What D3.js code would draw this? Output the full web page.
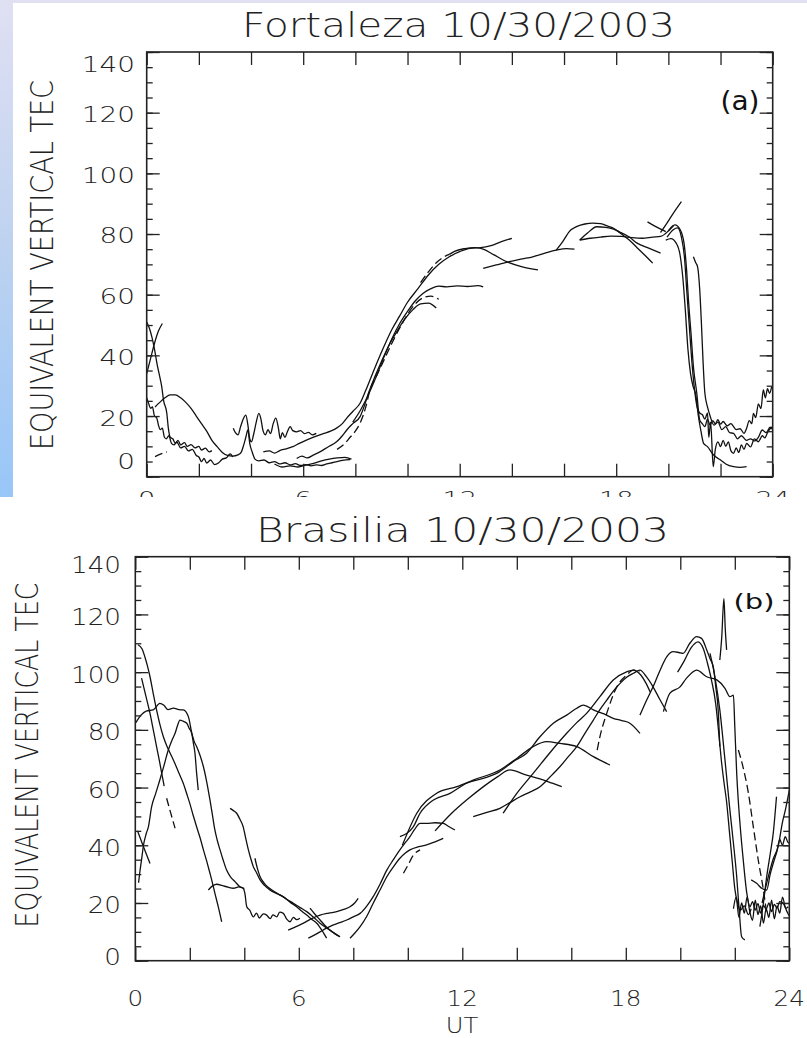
<!DOCTYPE html>
<html><head><meta charset="utf-8">
<script src="https://cdn.jsdelivr.net/npm/d3@7"></script>
<style>html,body{margin:0;padding:0;background:#fff}svg{display:block}</style>
</head><body>
<svg id="c" width="807" height="1038"></svg>
<script>
// ---------------- tick values / labels ----------------
const xTicks = [0,2,4,6,8,10,12,14,16,18,20,22,24];
const xLabels = [0,6,12,18,24];
const yMajor = [0,20,40,60,80,100,120,140];
const yMinor = [0,5,10,15,20,25,30,35,40,45,50,55,60,65,70,75,80,85,90,95,100,105,110,115,120,125,130,135,140];
const titles = ["Fortaleza 10/30/2003","Brasilia 10/30/2003"];
const yTitle = "EQUIVALENT VERTICAL TEC";
const xTitle = "UT";
const tags = ["(a)","(b)"];

// ---------------- Fortaleza passes [UT, TEC] ----------------
const fA1 = [[0,51],[0.1,49],[0.2,46],[0.3,42],[0.4,37],[0.5,33],[0.57,30],[0.65,25],[0.77,21],[0.83,16],[0.9,13],[1.0,12.5],[1.1,11],[1.2,12],[1.3,10.5],[1.45,11.2],[1.55,10],[1.7,10.6],[1.85,9.5],[2.0,10],[2.1,8.8],[2.25,9.4],[2.4,8.2],[2.5,8.6]];
const fA2 = [[0,34],[0.15,39],[0.3,44],[0.45,48],[0.6,50.5]];
const fA3 = [[0,26],[0.08,24],[0.15,22.5],[0.22,23],[0.3,20],[0.38,19.5],[0.45,17],[0.52,15.5],[0.6,16],[0.68,13],[0.75,12.5],[0.85,13.5],[0.95,11],[1.05,10.5],[1.15,11.5],[1.3,9.5],[1.45,10],[1.6,8.5],[1.75,9],[1.9,7],[2.0,6.5],[2.1,5],[2.2,6],[2.3,4.5],[2.45,5.5],[2.6,4],[2.75,4.5],[2.9,5.8],[3.05,6.2],[3.2,7.5],[3.3,6.5]];
const fA4 = [[0.32,6.6],[0.55,7.5],[0.77,8.2]];
const fB = [[0.32,23],[0.5,24.5],[0.7,26],[0.9,27],[1.1,27],[1.3,26],[1.5,24.5],[1.7,22.5],[1.9,20],[2.1,17.5],[2.3,15],[2.5,12],[2.7,9.9],[2.9,8],[3.1,7],[3.3,6.8],[3.5,7.2],[3.62,8],[3.72,10.5],[3.8,13],[3.88,15.4],[3.95,11],[4.05,8],[4.15,5.8],[4.3,5.2],[4.5,5.5],[4.7,4.6],[4.9,5],[5.1,4.2],[5.3,4.6],[5.5,3.9],[5.7,4.3],[5.9,3.7],[6.1,4],[6.3,3.6],[6.5,3.9],[6.7,3.7],[6.9,4.2],[7.1,4.6],[7.3,5],[7.5,5.4],[7.8,5.6]];
const fL = [[4.9,4.2],[5.2,3.2],[5.5,3.6],[5.8,3.2],[6.1,3.8],[6.4,4.4],[6.7,5.2],[7.0,5.8],[7.3,6.2],[7.6,6.4],[7.85,5.8]];
const fS = [[3.32,16],[3.4,14.5],[3.5,13.8],[3.6,16.5],[3.7,19],[3.8,20.3],[3.88,17],[3.95,12.5],[4.02,11.5],[4.1,14],[4.2,18],[4.3,20.9],[4.38,19],[4.45,15.5],[4.55,13.8],[4.65,15.5],[4.75,14.2],[4.85,17.5],[4.95,19.3],[5.05,16],[5.12,12.5],[5.2,14.5],[5.3,13],[5.4,15],[5.5,16.5],[5.6,15.2],[5.75,14.8],[5.9,15.2],[6.05,14.2],[6.2,14.6],[6.35,13.8],[6.5,14.3]];
const fR1 = [[4.47,8.2],[4.7,8.5],[4.9,7.8],[5.1,8.6],[5.35,9.2],[5.6,9.9],[5.85,11],[6.1,12],[6.45,13.2],[6.8,14.3],[7.05,15],[7.28,16],[7.5,17.5],[7.67,19.3],[7.9,21.5],[8.18,24.2],[8.4,28.5],[8.56,31.9],[8.8,37],[9.1,43],[9.4,48.5],[9.7,53],[10.0,57.5],[10.4,62],[10.8,66.5],[11.2,70],[11.6,72.5],[12.0,74.2],[12.4,75.3],[12.8,75.5],[13.2,76.2],[13.6,77.5],[14.0,78.6]];
const fR2 = [[5.75,6],[5.95,6.8],[6.15,6.2],[6.4,7.2],[6.64,8.2],[6.95,9.8],[7.28,11.5],[7.5,13.5],[7.67,15.4],[7.9,17.5],[8.18,19.8],[8.35,23.5],[8.5,27.5],[8.75,33],[9.0,38],[9.3,43.5],[9.6,48],[9.9,52],[10.2,55],[10.5,57],[10.8,57.2],[11.1,55.6]];
const fR3 = [[7.3,9],[7.6,11],[7.8,13],[8.0,15],[8.2,18],[8.4,23],[8.56,28.6],[8.8,33],[9.1,38.5],[9.4,44],[9.7,49],[10.0,53.5],[10.3,57],[10.6,59],[10.9,59.5],[11.2,58.5]];
const fR4 = [[7.9,18],[8.2,22],[8.5,27],[8.8,33],[9.1,39.5],[9.4,45.5],[9.7,50.5],[10.0,54.5],[10.3,58],[10.6,60.5],[10.9,62],[11.2,62.8],[11.5,62.6],[11.9,62.9],[12.3,62.7],[12.7,63],[12.9,62.6]];
const fR5a = [[10.5,64],[10.8,67.5],[11.1,70.5],[11.4,72.5],[11.6,73.3]];
const fR5 = [[11.6,73.3],[11.8,74.3],[12.2,75.2],[12.6,75.5],[12.9,75],[13.3,73.2],[13.8,70.9],[14.4,69.2],[15.0,68.2]];
const fR6 = [[12.9,68.7],[13.4,69.8],[13.9,70.9],[14.4,71.8],[14.8,72.5],[15.3,73.8],[15.7,74.7],[16.1,75.2],[16.4,75]];
const fH1 = [[15.7,74.7],[15.95,77.5],[16.2,80.8],[16.5,82.5],[16.8,83.3],[17.1,83.6],[17.4,83.4],[17.7,82.5],[17.9,81.9],[18.2,80],[18.5,78],[18.8,75.5],[19.1,73],[19.4,70.4]];
const fH2 = [[16.6,78],[16.9,80.3],[17.25,82.4],[17.6,82.2],[17.9,81.6],[18.1,80.8],[18.5,79],[18.8,77],[19.2,75.5],[19.7,73.7]];
const fH3 = [[16.6,78],[17.0,78.6],[17.4,79],[17.8,79.3],[18.2,79.2],[18.6,78.8],[19.0,78.6],[19.4,79],[19.7,79.2],[20.0,81],[20.2,82.8]];
const fH4 = [[19.2,84],[19.5,82.5],[19.9,80.8]];
const fH5 = [[19.7,80.5],[19.94,83.5],[20.2,87],[20.5,90.7]];
const fD1 = [[20.0,81],[20.25,83],[20.45,81.5],[20.6,77],[20.7,68],[20.77,58.3],[20.87,47],[20.96,36.3],[21.09,27.5],[21.2,18.7],[21.3,17.5],[21.4,16.5],[21.5,19],[21.6,17],[21.7,18.5],[21.8,17.5],[21.9,18.8],[22.0,17.3],[22.1,18.2],[22.25,16.8],[22.4,17.5],[22.5,16.5],[22.6,15.5],[22.75,15.8],[22.9,14.3],[23.0,16],[23.1,18.5],[23.2,17.5],[23.26,20.9],[23.35,19.5],[23.45,24],[23.55,22.5],[23.64,28.6],[23.72,26],[23.8,29],[23.88,27.5],[23.96,29.7]];
const fD2 = [[19.95,79],[20.2,81.5],[20.35,82],[20.5,79],[20.62,72],[20.7,62],[20.8,50],[20.9,38],[21.0,29],[21.1,23],[21.2,21],[21.3,20.5],[21.4,19],[21.5,21],[21.55,13],[21.62,18],[21.72,3.3],[21.8,9],[21.9,11.5],[22.0,9.9],[22.1,12],[22.2,10],[22.3,11.5],[22.4,8.5],[22.5,7.7],[22.6,9.5],[22.7,8],[22.8,10.5],[22.9,9],[23.0,11],[23.15,9.8],[23.3,12.5],[23.45,11.5],[23.5,12.1],[23.6,13.5],[23.7,12.8],[23.8,14.5],[23.9,15.8],[24.0,16.5]];
const fD3 = [[19.9,78],[20.1,78.5],[20.3,77],[20.45,73],[20.55,66],[20.65,55],[20.75,42],[20.85,34],[20.95,29.7],[21.05,27],[21.15,20],[21.25,15],[21.35,11],[21.5,9.9],[21.7,7.5],[21.85,6.3],[22.0,5.5],[22.2,4.2],[22.5,3.3],[22.75,3.1],[23.0,3.3]];
const fD4 = [[20.96,72.5],[21.05,70.5],[21.12,69.2],[21.2,62],[21.27,50],[21.33,38],[21.4,27.5],[21.5,23],[21.6,20],[21.75,17],[21.9,18],[22.05,15.5],[22.2,16.5],[22.35,14.5],[22.5,14.3],[22.65,12.5],[22.8,13.5],[23.0,12],[23.15,12.5],[23.3,11.8],[23.45,13],[23.6,15.4],[23.75,14.5],[23.9,16.3],[24.0,15.5]];

// ---------------- Brasilia passes [UT, TEC] ----------------
const bP1 = [[0.1,109.5],[0.25,108],[0.36,105],[0.45,102],[0.54,98.4],[0.66,92.5],[0.78,86.9],[0.9,82],[1.03,77.6],[1.2,73.5],[1.4,69.5],[1.58,65.5],[1.76,61.5],[1.9,57.5],[2.0,54.5],[2.12,50.5],[2.25,46.4],[2.38,42.5],[2.5,38.4],[2.62,34.5],[2.74,30.3],[2.83,27],[2.92,23.4],[3.05,18.5],[3.17,13.5]];
const bP2 = [[0.23,97.9],[0.38,92],[0.54,85.7],[0.66,80],[0.78,74.2],[0.88,69.5],[0.97,64.9],[1.06,60.5]];
const bP2d = [[1.15,56.3],[1.27,52.2],[1.38,48.5],[1.46,45.9]];
const bP3 = [[0.12,27],[0.17,31],[0.23,35],[0.3,40],[0.4,44],[0.48,46.4],[0.6,53.4],[0.75,58],[0.9,62.6],[1.05,67.5],[1.21,73],[1.35,76.5],[1.46,78.8],[1.55,81.5],[1.64,83.4],[1.75,83],[1.89,82.3],[1.98,80.5],[2.07,78.8],[2.13,75.5],[2.19,71.9],[2.25,65],[2.31,59.1]];
const bP3b = [[0.08,45],[0.3,39.5],[0.54,33.7]];
const bP4 = [[0.02,82.5],[0.2,85],[0.4,86.5],[0.66,86.9],[0.9,89.2],[1.05,88.5],[1.2,87],[1.4,87.5],[1.6,87],[1.76,86.9],[1.95,84.5],[2.07,79],[2.16,76],[2.25,74.2],[2.38,71],[2.5,67.2],[2.62,62],[2.74,55.7],[2.83,50.5],[2.92,45.3],[3.0,42],[3.11,38.4],[3.22,35],[3.35,31.4],[3.5,29],[3.66,27.4],[3.84,25.6],[3.96,25.1],[4.02,23.4],[4.09,18.7],[4.2,17.5],[4.33,15.2],[4.45,16.5],[4.55,14.8],[4.7,16.2],[4.82,15.8],[4.95,14.6],[5.05,15.9],[5.19,15.2],[5.3,16.8],[5.43,16.4],[5.55,14.5],[5.68,13.5],[5.8,15],[5.92,14.2],[6.04,14.7]];
const bP5 = [[2.68,24.5],[2.85,26],[2.99,26.5],[3.2,26],[3.4,25.5],[3.6,25.1],[3.8,25.6],[4.0,25]];
const bP6 = [[3.48,52.8],[3.6,52],[3.72,51.1],[3.84,49],[3.96,46.4],[4.05,42.5],[4.15,38.4],[4.25,35],[4.33,32.6],[4.45,30.5],[4.58,28],[4.75,26],[4.94,24.5],[5.2,23.2],[5.43,22.2],[5.68,20.3],[5.92,18.7],[6.1,17.2],[6.29,15.8],[6.48,14.3],[6.66,13],[6.85,10.5],[7.02,7.8]];
const bP7 = [[4.39,35.5],[4.48,32],[4.58,29.1],[4.72,27],[4.85,25.6],[5.1,24],[5.31,22.8],[5.55,21.3],[5.8,19.9],[6.05,18.4],[6.29,17],[6.55,15],[6.78,13],[7.15,10.5],[7.51,8.3]];
const bP8 = [[5.61,10.6],[5.9,11.8],[6.17,13],[6.45,14.5],[6.78,15.8],[7.1,16.5],[7.39,17],[7.65,17.8],[7.88,18.7],[8.05,20],[8.18,21.6]];
const bP9 = [[6.35,7.8],[6.55,8.8],[6.78,10],[7.0,11.2],[7.27,12.4],[7.5,13.2],[7.76,14.1],[8.0,15.2],[8.25,16.4],[8.5,19],[8.73,22.2],[8.98,26.5],[9.23,31.4],[9.47,35],[9.71,38.4],[9.9,40.8],[10.08,43],[10.25,45.5],[10.45,47.6],[10.69,47.6],[11.0,47.8],[11.3,47.6],[11.5,46.5],[11.73,45.3]];
const bP10 = [[6.41,18.2],[6.6,16],[6.78,14.1],[6.95,12.3],[7.14,10.6],[7.33,9.3],[7.51,8.3]];
const bP11 = [[7.88,7.8],[8.05,9.5],[8.25,11.8],[8.5,15.5],[8.73,19.9],[8.98,24.5],[9.23,29.1],[9.47,32.5],[9.71,35.5],[9.9,37.2],[10.08,38.4],[10.4,39.5],[10.69,40.1],[11.0,41.2],[11.3,42.4]];
const bP12 = [[9.84,30.3],[10.0,33],[10.2,36.5],[10.45,38.4]];
const bQ1 = [[9.71,43],[10.2,46.4],[10.45,51.1],[10.94,55.7],[11.55,58],[12.16,61.5],[12.77,63.2],[13.26,64.9],[13.87,69],[14.36,71.9],[14.85,77.6],[15.34,82.3],[15.83,85.1],[16.2,87.5],[16.44,88.6],[16.81,86.9],[17.2,85.5],[17.54,84],[17.85,83.2],[18.15,82.3],[18.52,78.8]];
const bQ2 = [[9.8,40],[10.33,51.1],[11.06,58],[11.8,60.3],[12.4,62.6],[13.38,66.1],[14.0,70.1],[14.6,74.2],[15.1,75.9],[15.58,75.3],[16.2,74.2],[16.81,70.7],[17.42,67.8]];
const bQ3 = [[12.4,49.9],[12.9,51.4],[13.38,52.8],[13.75,54.8],[14.12,56.8],[14.5,58.5],[14.85,60.3],[15.2,63.5],[15.58,67.2],[15.9,70.8],[16.2,74.2],[16.5,78.8],[16.81,83.4],[17.05,87],[17.3,90.3],[17.55,93.5],[17.79,96.1],[18.03,98.2],[18.28,99.6],[18.52,100.7],[18.75,98.5],[19.0,94.9],[19.25,90.5],[19.5,86.3]];
const bQ4 = [[13.5,51.1],[14.0,58],[14.6,64.9],[15.2,71.9],[15.83,78.8],[16.2,82.5],[16.56,85.7],[17.05,91.5],[17.54,97.3],[18.03,100.1],[18.28,100.7],[18.55,99],[18.75,96],[18.9,93]];
const bQ5 = [[16.95,73],[17.05,77.6],[17.3,85.7],[17.67,94.9],[18.03,99],[18.28,100.7],[18.5,100]];
const bQ6 = [[11.0,45],[11.6,51],[12.2,56],[12.8,60.5],[13.3,63.8],[13.75,66.1],[14.3,64.5],[14.85,63],[15.3,61.5],[15.65,60.3]];
const bQ8 = [[18.52,85.1],[18.75,90],[19.0,94.9],[19.25,100.5],[19.5,105.3],[19.74,107.1],[19.95,106.8],[20.1,106.5],[20.35,110],[20.6,112.3],[20.78,111.7],[20.97,107.7],[21.1,104.5],[21.21,101.9],[21.3,95],[21.39,86.9],[21.45,74.2]];
const bQ9 = [[19.38,86.3],[19.62,92.7],[19.99,94.9],[20.23,97.9],[20.6,100.7],[20.97,98.4],[21.34,97.3],[21.64,94.4],[21.82,91.5],[21.95,92],[22.0,81.1],[22.07,64.9],[22.2,46.4],[22.31,34.9],[22.44,23.4],[22.56,18.7],[22.65,20.5],[22.75,17.5],[22.85,19.8],[22.95,16.5],[23.05,19.2],[23.15,17.8],[23.25,20],[23.35,17],[23.45,19.5],[23.55,18.2],[23.65,20.5],[23.78,19.9],[23.88,18.2],[23.96,18.7]];
const bQ10 = [[19.9,100],[20.15,104],[20.4,108.5],[20.65,110.5],[20.85,108],[21.0,103],[21.15,97],[21.3,89],[21.4,80],[21.5,70],[21.6,62],[21.7,55],[21.8,45],[21.9,35],[22.0,25],[22.1,20],[22.2,17.5],[22.35,19],[22.5,16],[22.6,18]];
const bQ11 = [[21.09,106.5],[21.27,98.4],[21.45,86.9],[21.64,69.5],[21.82,52.2],[21.95,40.7],[22.07,29.1],[22.16,17.6],[22.25,8.3],[22.37,7.2]];
const bQ12 = [[21.45,104.2],[21.52,112],[21.6,125.5],[21.65,115],[21.7,107.7]];
const bQ13 = [[22.13,73],[22.3,67.2],[22.5,58],[22.68,46.4],[22.86,34.9],[23.05,24.5],[23.17,16.4]];
const bQ14 = [[22.92,11.8],[23.05,20],[23.17,29.1],[23.3,37],[23.41,44.1],[23.53,56.8]];
const bQ15 = [[23.0,20],[23.2,28],[23.4,35],[23.6,40],[23.75,48],[23.85,52],[24.0,59]];
const bQ16 = [[22.6,28],[22.8,26.8],[23.0,25],[23.17,24.5],[23.3,30],[23.45,35],[23.55,38],[23.65,42],[23.75,40],[23.85,43],[23.95,41],[24.0,40.7]];
const bQ17 = [[21.95,18],[22.05,22],[22.15,15],[22.25,20],[22.35,16.5],[22.45,22],[22.55,17],[22.65,14],[22.75,21],[22.85,16],[22.95,19],[23.05,13],[23.15,18],[23.25,15],[23.35,21],[23.45,14.5],[23.55,19],[23.65,16.5],[23.75,22],[23.85,18.5],[24.0,15.5]];

const fortalezaPasses = [fA1,fA2,fA3,fA4,fB,fL,fS,fR1,fR2,fR3,fR4,fR5a,fR5,fR6,fH1,fH2,fH3,fH4,fH5,fD1,fD2,fD3,fD4];
const brasiliaPasses = [bP1,bP2,bP2d,bP3,bP3b,bP4,bP5,bP6,bP7,bP8,bP9,bP10,bP11,bP12,bQ1,bQ2,bQ3,bQ4,bQ5,bQ6,bQ8,bQ9,bQ10,bQ11,bQ12,bQ13,bQ14,bQ15,bQ16,bQ17];

// ---------------- drawing ----------------
const dashed = new Set([fA4, fR3, fR5a, bP2d, bP12, bQ5, bQ13]);
const FONT = "'DejaVu Sans', sans-serif";
const svg = d3.select("#c");
const defs = svg.append("defs");
const grad = defs.append("linearGradient").attr("id","bg").attr("x1",0).attr("y1",0).attr("x2",0).attr("y2",1);
grad.append("stop").attr("offset","0%").attr("stop-color","#e0e0f3");
grad.append("stop").attr("offset","50%").attr("stop-color","#bdd2f0");
grad.append("stop").attr("offset","100%").attr("stop-color","#98c6f8");
defs.append("clipPath").attr("id","upperClip").append("rect").attr("x",0).attr("y",0).attr("width",807).attr("height",497);

svg.append("rect").attr("width",807).attr("height",1038).attr("fill","#fff");
svg.append("rect").attr("x",0).attr("y",0).attr("width",807).attr("height",3).attr("fill","#e0e0f3");
svg.append("rect").attr("x",0).attr("y",0).attr("width",13).attr("height",497).attr("fill","url(#bg)");

function stretchText(g, txt, x, y, size, sx, anchor, weight) {
  return g.append("text")
    .attr("transform", `translate(${x},${y}) scale(${sx},1)`)
    .attr("text-anchor", anchor)
    .attr("font-family", FONT).attr("font-size", size)
    .attr("font-weight", weight || 200)
    .attr("fill", "#222").text(txt);
}

function panel(cfg, passes) {
  const x = d3.scaleLinear().domain([0,24]).range([cfg.l, cfg.r]);
  const y = d3.scaleLinear().domain([0,140]).range([cfg.b, cfg.t]);
  const gp = svg.append("g");
  defs.append("clipPath").attr("id", cfg.id + "clip").append("rect")
    .attr("x", cfg.l).attr("y", cfg.t).attr("width", cfg.r - cfg.l).attr("height", cfg.b - cfg.t);

  const line = d3.line().x(d => x(d[0])).y(d => y(d[1])).curve(d3.curveMonotoneX);
  const lg = gp.append("g").attr("clip-path", `url(#${cfg.id}clip)`);
  passes.forEach(p => {
    lg.append("path").attr("d", line(p)).attr("fill","none")
      .attr("stroke","#111").attr("stroke-width",1.3).attr("stroke-linejoin","round")
      .attr("stroke-dasharray", dashed.has(p) ? "8,4" : null);
  });

  const styleAx = s => { s.select(".domain").remove(); s.selectAll("line").attr("stroke","#222").attr("stroke-width",1.3); s.selectAll("text").remove(); };
  gp.append("g").attr("transform",`translate(${cfg.l},0)`).call(d3.axisLeft(y).tickValues(yMajor).tickSize(-13).tickFormat("")).call(styleAx);
  gp.append("g").attr("transform",`translate(${cfg.l},0)`).call(d3.axisLeft(y).tickValues(yMinor).tickSize(-6).tickFormat("")).call(styleAx);
  gp.append("g").attr("transform",`translate(${cfg.r},0)`).call(d3.axisRight(y).tickValues(yMajor).tickSize(-13).tickFormat("")).call(styleAx);
  gp.append("g").attr("transform",`translate(${cfg.r},0)`).call(d3.axisRight(y).tickValues(yMinor).tickSize(-6).tickFormat("")).call(styleAx);
  gp.append("g").attr("transform",`translate(0,${cfg.t})`).call(d3.axisTop(x).tickValues(xTicks).tickSize(-13).tickFormat("")).call(styleAx);
  gp.append("g").attr("transform",`translate(0,${cfg.b})`).call(d3.axisBottom(x).tickValues(xTicks).tickSize(-13).tickFormat("")).call(styleAx);
  gp.append("rect").attr("x",cfg.l).attr("y",cfg.t).attr("width",cfg.r-cfg.l).attr("height",cfg.b-cfg.t)
    .attr("fill","none").attr("stroke","#222").attr("stroke-width",1.6);

  // y tick labels
  yMajor.forEach(v => {
    const dy = v === 140 ? cfg.dyTop : (v === 0 ? cfg.dyBot : cfg.dyMid);
    stretchText(gp, String(v), cfg.labR, y(v) + dy + 0.365 * cfg.ls, cfg.ls, cfg.lsx, "end");
  });
  // x tick labels (the upper figure's are cut by the lower figure's page)
  const xg = gp.append("g").attr("clip-path", cfg.xClip ? `url(#${cfg.xClip})` : null);
  xLabels.forEach(v => {
    stretchText(xg, String(v), x(v), cfg.xlY, cfg.xs, cfg.xsx, "middle");
  });
  // title
  gp.append("text").attr("x", cfg.tX).attr("y", cfg.tY).attr("text-anchor","middle")
    .attr("font-family", FONT).attr("font-size", cfg.tS).attr("font-weight",200).attr("fill","#222")
    .attr("textLength", cfg.tLen).attr("lengthAdjust","spacingAndGlyphs").text(cfg.title);
  // y title
  gp.append("text").attr("transform", `translate(${cfg.yX},${cfg.yY}) rotate(-90)`).attr("text-anchor","middle")
    .attr("font-family", FONT).attr("font-size", 32).attr("font-weight",200).attr("fill","#222")
    .attr("textLength", cfg.yLen).attr("lengthAdjust","spacingAndGlyphs").text(yTitle);
  // panel tag
  gp.append("text").attr("x", cfg.gX).attr("y", cfg.gY).attr("text-anchor","middle")
    .attr("font-family", FONT).attr("font-size", cfg.gS).attr("font-weight","normal").attr("fill","#111")
    .attr("textLength", cfg.gLen).attr("lengthAdjust","spacingAndGlyphs").text(cfg.tag);
  return {x, y, gp};
}

panel({id:"a", l:146.7, r:772.7, t:52, b:476.7, labR:135, ls:20.5, lsx:1.36, dyTop:13, dyMid:2, dyBot:-15,
  xlY:505, xs:20, xsx:1.36, xClip:"upperClip", title:titles[0], tX:458.5, tY:37, tS:34, tLen:433,
  yX:53, yY:265, yLen:370, tag:tags[0], gX:740, gY:110, gS:27, gLen:39}, fortalezaPasses);

// white page of the lower figure
svg.append("rect").attr("x",0).attr("y",497).attr("width",807).attr("height",541).attr("fill","#fff");

const pb = panel({id:"b", l:135.3, r:789.3, t:556.7, b:960.7, labR:121, ls:23, lsx:1.14, dyTop:8, dyMid:2, dyBot:-4,
  xlY:1006, xs:22, xsx:1.12, xClip:null, title:titles[1], tX:462.5, tY:542, tS:34, tLen:413,
  yX:38, yY:755, yLen:345, tag:tags[1], gX:754, gY:609, gS:22, gLen:41}, brasiliaPasses);
stretchText(pb.gp, xTitle, 462, 1033, 21, 1.15, "middle");
</script>
</body></html>
